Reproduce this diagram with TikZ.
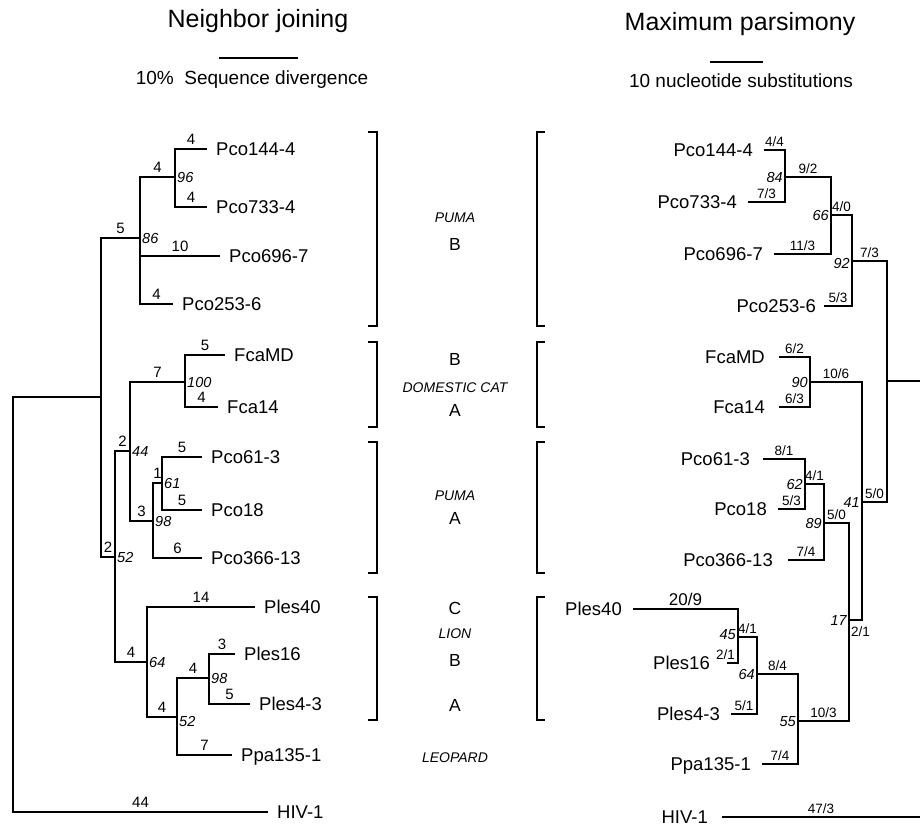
\documentclass[tikz,border=0pt]{standalone}
\usepackage{fontspec}
\setmainfont{Liberation Sans}
\begin{document}
\begin{tikzpicture}[x=1pt,y=-1pt,
  br/.style={line width=2.1pt, line join=miter, line cap=butt},
  brk/.style={line width=1.2pt},
  taxL/.style={font={\fontsize{18.5}{20}\selectfont}, inner sep=0pt, text height=13.2pt, text depth=0pt, anchor=west, xshift=9pt},
  taxR/.style={font={\fontsize{18.5}{20}\selectfont}, inner sep=0pt, text height=13.2pt, text depth=0pt, anchor=east, xshift=-11pt},
  lab/.style={font={\fontsize{15}{16}\selectfont}, inner sep=0pt, text depth=0pt, anchor=south, yshift=3pt},
  lab2/.style={font={\fontsize{13.5}{15}\selectfont}, inner sep=0pt, text depth=0pt, anchor=south, yshift=2pt},
  bsL/.style={font={\fontsize{14.5}{16}\selectfont\itshape}, inner sep=0pt, text height=10.3pt, text depth=0pt, anchor=west, xshift=2pt},
  bsR/.style={font={\fontsize{14.5}{16}\selectfont\itshape}, inner sep=0pt, text height=10.3pt, text depth=0pt, anchor=east, xshift=-2pt},
  clade/.style={font={\fontsize{17.5}{19}\selectfont}, inner sep=0pt, text height=12.5pt, text depth=0pt},
  grp/.style={font={\fontsize{14}{15}\selectfont\itshape}, inner sep=0pt, text height=10pt, text depth=0pt},
  ttl/.style={font={\fontsize{25}{28}\selectfont}, inner sep=0pt, anchor=base},
  sub/.style={font={\fontsize{19}{21}\selectfont}, inner sep=0pt, anchor=base}
]
\useasboundingbox (0,0) rectangle (920,826);

% ---------- titles and scale bars ----------
\node[ttl] (t1) at (258,28) {Neighbor joining};
\node[sub] (s1) at (252,85) {10\%\ \ Sequence divergence};
\coordinate (sb1a) at (219,58); \coordinate (sb1b) at (298,58);
\draw[br] (sb1a) -- (sb1b);
\node[ttl] (t2) at (740,31) {Maximum parsimony};
\node[sub] (s2) at (741,88) {10 nucleotide substitutions};
\coordinate (sb2a) at (710,62); \coordinate (sb2b) at (763,62);
\draw[br] (sb2a) -- (sb2b);

% ---------- Neighbor joining tree ----------
\coordinate (r0) at (13,397);
\coordinate (nA) at (101,397);
\coordinate (nPB) at (140,238);
\coordinate (n144) at (175,177);
\coordinate (t144) at (207,149);
\coordinate (t733) at (207,207);
\coordinate (t696) at (220,256);
\coordinate (t253) at (173,304);
\coordinate (nB) at (115,557);
\coordinate (nC) at (130,451);
\coordinate (nF) at (185,382);
\coordinate (tFMD) at (225,355);
\coordinate (tF14) at (218,407);
\coordinate (nP) at (153,521);
\coordinate (nP2) at (162,483);
\coordinate (t61) at (202,457);
\coordinate (t18) at (202,510);
\coordinate (t366) at (202,558);
\coordinate (nL) at (147,662);
\coordinate (t40) at (255,607);
\coordinate (nL2) at (177,717);
\coordinate (nL3) at (209,678);
\coordinate (t16) at (235,654);
\coordinate (t43) at (250,704);
\coordinate (tPpa) at (232,755);
\coordinate (tHIV) at (268,812);

\draw[br] (nA) -- (r0) -- (r0 |- tHIV) -- node[lab]{44} (tHIV);
\draw[br] (nPB) -- node[lab]{5} (nA |- nPB) -- (nA |- nB) -- node[lab]{2} (nB);
\draw[br] (n144) -- node[lab]{4} (nPB |- n144) -- (nPB |- t253) -- node[lab]{4} (t253);
\draw[br] (nPB |- t696) -- node[lab]{10} (t696);
\draw[br] (t144) -- node[lab]{4} (n144 |- t144) -- (n144 |- t733) -- node[lab]{4} (t733);
\draw[br] (nC) -- node[lab]{2} (nB |- nC) -- (nB |- nL) -- node[lab]{4} (nL);
\draw[br] (nF) -- node[lab]{7} (nC |- nF) -- (nC |- nP) -- node[lab]{3} (nP);
\draw[br] (tFMD) -- node[lab]{5} (nF |- tFMD) -- (nF |- tF14) -- node[lab]{4} (tF14);
\draw[br] (nP2) -- node[lab]{1} (nP |- nP2) -- (nP |- t366) -- node[lab]{6} (t366);
\draw[br] (t61) -- node[lab]{5} (nP2 |- t61) -- (nP2 |- t18) -- node[lab]{5} (t18);
\draw[br] (t40) -- node[lab]{14} (nL |- t40) -- (nL |- nL2) -- node[lab]{4} (nL2);
\draw[br] (nL3) -- node[lab]{4} (nL2 |- nL3) -- (nL2 |- tPpa) -- node[lab]{7} (tPpa);
\draw[br] (t16) -- node[lab]{3} (nL3 |- t16) -- (nL3 |- t43) -- node[lab]{5} (t43);

\node[bsL] (b1) at (n144) {96};
\node[bsL] (b2) at (nPB) {86};
\node[bsL] (b3) at (nF) {100};
\node[bsL] (b4) at (nC) {44};
\node[bsL] (b5) at (nP2) {61};
\node[bsL] (b6) at (nP) {98};
\node[bsL] (b7) at (nB) {52};
\node[bsL] (b8) at (nL) {64};
\node[bsL, yshift=-4pt] (b9) at (nL2) {52};
\node[bsL] (b10) at (nL3) {98};

\node[taxL] (L144) at (t144) {Pco144-4};
\node[taxL] (L733) at (t733) {Pco733-4};
\node[taxL] (L696) at (t696) {Pco696-7};
\node[taxL] (L253) at (t253) {Pco253-6};
\node[taxL] (LFMD) at (tFMD) {FcaMD};
\node[taxL] (LF14) at (tF14) {Fca14};
\node[taxL] (L61) at (t61) {Pco61-3};
\node[taxL] (L18) at (t18) {Pco18};
\node[taxL] (L366) at (t366) {Pco366-13};
\node[taxL] (L40) at (t40) {Ples40};
\node[taxL] (L16) at (t16) {Ples16};
\node[taxL] (L43) at (t43) {Ples4-3};
\node[taxL] (LPpa) at (tPpa) {Ppa135-1};
\node[taxL] (LHIV) at (tHIV) {HIV-1};

% ---------- brackets and group names ----------
\draw[brk] (368,132) -- (377,132) -- (377,326) -- (368,326);
\draw[brk] (545,132) -- (537,132) -- (537,326) -- (545,326);
\draw[brk] (368,342) -- (377,342) -- (377,427) -- (368,427);
\draw[brk] (545,342) -- (537,342) -- (537,427) -- (545,427);
\draw[brk] (368,442) -- (377,442) -- (377,573) -- (368,573);
\draw[brk] (545,442) -- (537,442) -- (537,573) -- (545,573);
\draw[brk] (368,597) -- (377,597) -- (377,720) -- (368,720);
\draw[brk] (545,597) -- (537,597) -- (537,720) -- (545,720);

\node[grp] (g1) at (455,218) {PUMA};
\node[clade] (c1) at (455,244) {B};
\node[clade] (c2) at (455,359) {B};
\node[grp] (g2) at (455,387) {DOMESTIC CAT};
\node[clade] (c3) at (455,410) {A};
\node[grp] (g3) at (455,495) {PUMA};
\node[clade] (c4) at (455,518) {A};
\node[clade] (c5) at (455,608) {C};
\node[grp] (g4) at (455,633) {LION};
\node[clade] (c6) at (455,660) {B};
\node[clade] (c7) at (455,705) {A};
\node[grp] (g5) at (455,757) {LEOPARD};

% ---------- Maximum parsimony tree ----------
\coordinate (m0) at (887,381);
\coordinate (mRoot) at (920,381);
\coordinate (mPB) at (852,261);
\coordinate (m3) at (831,215);
\coordinate (m2) at (785,177);
\coordinate (u144) at (764,150);
\coordinate (u733) at (748,202);
\coordinate (u696) at (774,254);
\coordinate (u253) at (824,306);
\coordinate (mX) at (862,502);
\coordinate (mF) at (810,382);
\coordinate (uFMD) at (779,357);
\coordinate (uF14) at (779,407);
\coordinate (mY) at (849,620);
\coordinate (mPA) at (824,523);
\coordinate (mP2) at (805,484);
\coordinate (u61) at (763,459);
\coordinate (u18) at (778,509);
\coordinate (u366) at (788,560);
\coordinate (mL) at (798,721);
\coordinate (mL2) at (757,674);
\coordinate (mL3) at (738,637);
\coordinate (u40) at (633,609);
\coordinate (u16) at (727,663);
\coordinate (u43) at (731,714);
\coordinate (uPpa) at (762,764);
\coordinate (uHIV) at (722,817);
\coordinate (uHIVr) at (920,817);

\draw[br] (m0) -- (mRoot);
\draw[br] (mPB) -- node[lab2]{7/3} (m0 |- mPB) -- (m0 |- mX) -- node[lab2]{5/0} (mX);
\draw[br] (m3) -- node[lab2]{4/0} (mPB |- m3) -- (mPB |- u253) -- node[lab2]{5/3} (u253);
\draw[br] (m2) -- node[lab2]{9/2} (m3 |- m2) -- (m3 |- u696) -- node[lab2]{11/3} (u696);
\draw[br] (u144) -- node[lab2]{4/4} (m2 |- u144) -- (m2 |- u733) -- node[lab2]{7/3} (u733);
\draw[br] (mF) -- node[lab2]{10/6} (mX |- mF) -- (mX |- mY) -- node[lab2, anchor=north, yshift=-8pt, xshift=5pt]{2/1} (mY);
\draw[br] (uFMD) -- node[lab2]{6/2} (mF |- uFMD) -- (mF |- uF14) -- node[lab2]{6/3} (uF14);
\draw[br] (mPA) -- node[lab2]{5/0} (mY |- mPA) -- (mY |- mL) -- node[lab2]{10/3} (mL);
\draw[br] (mP2) -- node[lab2]{4/1} (mPA |- mP2) -- (mPA |- u366) -- node[lab2]{7/4} (u366);
\draw[br] (u61) -- node[lab2]{8/1} (mP2 |- u61) -- (mP2 |- u18) -- node[lab2]{5/3} (u18);
\draw[br] (mL2) -- node[lab2]{8/4} (mL |- mL2) -- (mL |- uPpa) -- node[lab2]{7/4} (uPpa);
\draw[br] (mL3) -- node[lab2]{4/1} (mL2 |- mL3) -- (mL2 |- u43) -- node[lab2]{5/1} (u43);
\draw[br] (u40) -- node[lab2, font={\fontsize{17}{19}\selectfont}]{20/9} (mL3 |- u40) -- (mL3 |- u16) -- node[lab2, xshift=-7pt]{2/1} (u16);
\draw[br] (uHIV) -- node[lab2]{47/3} (uHIVr);

\node[bsR] (p1) at (m2) {84};
\node[bsR] (p2) at (m3) {66};
\node[bsR, yshift=-2pt] (p3) at (mPB) {92};
\node[bsR] (p4) at (mF) {90};
\node[bsR] (p5) at (mX) {41};
\node[bsR] (p6) at (mY) {17};
\node[bsR] (p7) at (mP2) {62};
\node[bsR] (p8) at (mPA) {89};
\node[bsR, yshift=3pt] (p9) at (mL3) {45};
\node[bsR] (p10) at (mL2) {64};
\node[bsR] (p11) at (mL) {55};

\node[taxR] (R144) at (u144) {Pco144-4};
\node[taxR] (R733) at (u733) {Pco733-4};
\node[taxR] (R696) at (u696) {Pco696-7};
\node[taxR, xshift=3pt] (R253) at (u253) {Pco253-6};
\node[taxR, xshift=-3pt] (RFMD) at (uFMD) {FcaMD};
\node[taxR, xshift=-3pt] (RF14) at (uF14) {Fca14};
\node[taxR, xshift=-2pt] (R61) at (u61) {Pco61-3};
\node[taxR] (R18) at (u18) {Pco18};
\node[taxR, xshift=-4pt] (R366) at (u366) {Pco366-13};
\node[taxR] (R40) at (u40) {Ples40};
\node[taxR, xshift=-6pt] (R16) at (u16) {Ples16};
\node[taxR] (R43) at (u43) {Ples4-3};
\node[taxR] (RPpa) at (uPpa) {Ppa135-1};
\node[taxR, xshift=-3pt] (RHIV) at (uHIV) {HIV-1};
\end{tikzpicture}
\end{document}
